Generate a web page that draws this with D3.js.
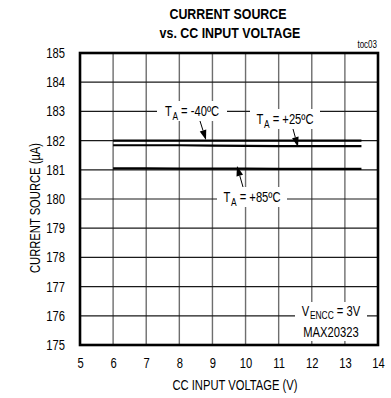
<!DOCTYPE html>
<html><head><meta charset="utf-8">
<script src="https://cdn.jsdelivr.net/npm/d3@7"></script>
<style>
body{margin:0;background:#fff;}
svg text{font-family:"Liberation Sans",Arial,sans-serif;fill:#000;}
</style></head><body>
<svg id="c" width="391" height="398"></svg>
<script>
const voltage = [6, 7, 8, 9, 10, 11, 12, 13, 13.5];
const tempMinus40 = [182.00, 182.00, 182.00, 182.00, 182.00, 182.00, 182.00, 182.00, 182.00];
const tempPlus25 = [181.84, 181.84, 181.84, 181.83, 181.82, 181.81, 181.81, 181.81, 181.81];
const tempPlus85 = [181.05, 181.05, 181.04, 181.04, 181.04, 181.03, 181.03, 181.03, 181.03];
const xTicks = [5, 6, 7, 8, 9, 10, 11, 12, 13, 14];
const yTicks = [175, 176, 177, 178, 179, 180, 181, 182, 183, 184, 185];

const svg = d3.select("#c");
const L = 80, R = 378, T = 53, B = 345;
const x = d3.scaleLinear().domain([5, 14]).range([L, R]);
const y = d3.scaleLinear().domain([175, 185]).range([B, T]);

// grid
const g = svg.append("g");
g.selectAll(".vx").data(xTicks.slice(1, -1)).join("line")
  .attr("x1", d => x(d)).attr("x2", d => x(d)).attr("y1", T).attr("y2", B)
  .attr("stroke", "#6e6e6e").attr("stroke-width", 1.4);
g.selectAll(".hy").data(yTicks.slice(1, -1)).join("line")
  .attr("x1", L).attr("x2", R).attr("y1", d => y(d)).attr("y2", d => y(d))
  .attr("stroke", "#1a1a1a").attr("stroke-width", 1.2);

// axes labels via d3 axes (no lines)
const xa = svg.append("g").attr("transform", `translate(0,${B})`)
  .call(d3.axisBottom(x).tickValues(xTicks).tickSize(0).tickPadding(13));
const ya = svg.append("g").attr("transform", `translate(${L},0)`)
  .call(d3.axisLeft(y).tickValues(yTicks).tickSize(0).tickPadding(15));
[xa, ya].forEach(a => {
  a.select(".domain").remove();
  a.selectAll("text").attr("font-size", 14).attr("font-family", null).classed("narrow", true);
});

// series
const series = [tempMinus40, tempPlus25, tempPlus85];
const line = d3.line().x((d, i) => x(voltage[i])).y(d => y(d));
svg.selectAll(".s").data(series).join("path")
  .attr("d", d => line(d)).attr("fill", "none")
  .attr("stroke", "#000").attr("stroke-width", 2.2);

// labels with subscripts, horizontally condensed
function subLabel(cx, cy, main, sub, rest, sdy) {
  const gg = svg.append("g").attr("transform", `translate(${cx},${cy}) scale(0.8,1)`);
  const t = gg.append("text").attr("x", 0).attr("y", 0)
    .attr("text-anchor", "middle").attr("font-size", 14);
  t.append("tspan").text(main);
  t.append("tspan").text(sub).attr("font-size", 10.5).attr("dy", sdy).attr("dx", 0.8);
  t.append("tspan").text(rest).attr("dy", -sdy);
}
function box(cx, cy, w, h) {
  svg.append("rect").attr("x", cx - w / 2).attr("y", cy - h / 2)
    .attr("width", w).attr("height", h).attr("fill", "#fff");
}
function arrow(x1, y1, x2, y2) {
  const ang = Math.atan2(y2 - y1, x2 - x1);
  const hl = 10, hw = 3.4;
  const bx = x2 - hl * Math.cos(ang), by = y2 - hl * Math.sin(ang);
  svg.append("line").attr("x1", x1).attr("y1", y1).attr("x2", bx).attr("y2", by)
    .attr("stroke", "#000").attr("stroke-width", 1);
  svg.append("path").attr("d",
    `M${x2},${y2}L${bx + hw * Math.sin(ang)},${by - hw * Math.cos(ang)}L${bx - hw * Math.sin(ang)},${by + hw * Math.cos(ang)}Z`)
    .attr("fill", "#000");
}

box(192, 111, 70, 20); subLabel(192, 115.5, "T", "A", " = -40ºC", 4);
arrow(200, 121, 206, 140);
box(285, 119, 70, 20); subLabel(285, 123.5, "T", "A", " = +25ºC", 4);
arrow(293, 129, 298, 147);
box(252, 197, 70, 20); subLabel(252, 201.5, "T", "A", " = +85ºC", 4);
arrow(243, 187, 237, 166);

// VENCC box
svg.append("rect").attr("x", 295).attr("y", 302).attr("width", 72).attr("height", 39).attr("fill", "#fff");
subLabel(331, 316, "V", "ENCC", " = 3V", 3);
svg.append("text").attr("x", 331).attr("y", 337).attr("text-anchor", "middle").attr("font-size", 14)
  .classed("narrow", true).text("MAX20323");

// frame
svg.append("rect").attr("x", L).attr("y", T).attr("width", R - L).attr("height", B - T)
  .attr("fill", "none").attr("stroke", "#000").attr("stroke-width", 2.6);

// titles
svg.append("text").attr("x", 228).attr("y", 19).attr("text-anchor", "middle").classed("narrow", true)
  .attr("font-size", 15.5).attr("font-weight", "bold").text("CURRENT SOURCE");
svg.append("text").attr("x", 230).attr("y", 38).attr("text-anchor", "middle").classed("narrow", true)
  .attr("font-size", 15.5).attr("font-weight", "bold").text("vs. CC INPUT VOLTAGE");
svg.append("text").attr("x", 377).attr("y", 48).attr("text-anchor", "end").classed("narrow", true)
  .attr("font-size", 10).text("toc03");
svg.append("text").attr("x", 235).attr("y", 390).attr("text-anchor", "middle").classed("narrow", true)
  .attr("font-size", 14).text("CC INPUT VOLTAGE (V)");
svg.append("text").attr("transform", "translate(40,208) rotate(-90)").attr("text-anchor", "middle")
  .classed("narrow", true).attr("font-size", 14).text("CURRENT SOURCE (µA)");

// emulate the narrow typeface of the original
svg.selectAll("text.narrow").each(function () {
  const len = this.getComputedTextLength();
  d3.select(this).attr("textLength", len * 0.8).attr("lengthAdjust", "spacingAndGlyphs");
});
</script></body></html>
